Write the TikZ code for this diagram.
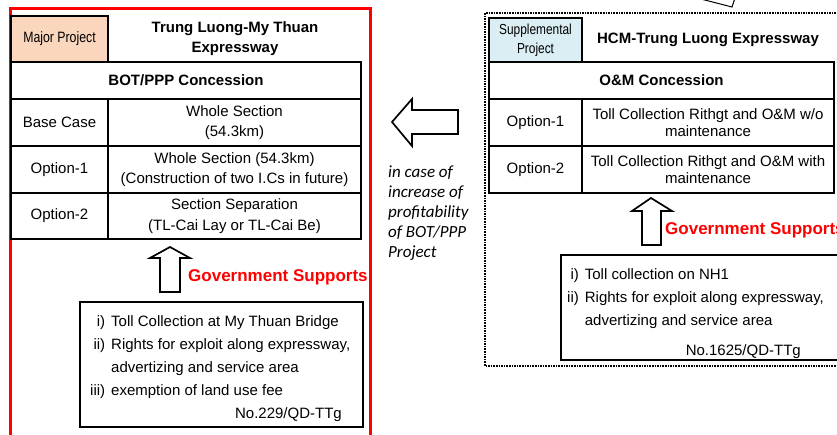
\documentclass[tikz,border=0pt]{standalone}
\usepackage{fontspec}
\setmainfont{Liberation Sans}
\newfontfamily\narrowfont[FakeStretch=0.82]{Liberation Sans}
\newfontfamily\notefont{Carlito}
\usetikzlibrary{positioning}
\definecolor{peach}{RGB}{250,214,188}
\definecolor{paleblue}{RGB}{218,238,243}

\begin{document}
\begin{tikzpicture}[x=1pt,y=-1pt,
    cell/.style={draw, line width=1.7pt, anchor=north west, inner sep=0pt, outer sep=0pt, align=center, font=\fontsize{15}{20.5}\selectfont},
    tightcell/.style={cell, font=\fontsize{15}{16.5}\selectfont},
    tagcell/.style={cell, font=\narrowfont\fontsize{15}{19}\selectfont},
    headtext/.style={align=center, inner sep=0pt, font=\bfseries\fontsize{15}{20}\selectfont},
    supports/.style={text=red, anchor=base west, inner sep=0pt, font=\bfseries\fontsize{17}{20}\selectfont},
    blockarrow/.style={draw, line width=1.7pt, fill=white, line join=miter},
    listbox/.style={draw, line width=1.7pt, anchor=north west, outer sep=0pt},
    listtext/.style={anchor=base west, inner sep=0pt, font=\fontsize{15}{23}\selectfont},
  ]
        \useasboundingbox (0,0) rectangle (837,434);
        \clip (0,0) rectangle (837,434);

        % Frames
        \draw[red, line width=3pt] (10,8) rectangle (370,450);
        \draw[line width=2.6pt, dash pattern=on 1.6pt off 1pt] (485,13) rectangle (860,366);
        \draw[line width=1pt] (697,-2) -- (732,7) -- (735,-2);

        % Major project table
        \node[tagcell, fill=peach, minimum width=97pt, minimum height=46pt] (majL) at (11,16) {Major Project};
        \node[headtext] (titleL) at (235,39) {Trung Luong-My Thuan\\Expressway};
        \node[cell, minimum width=350pt, minimum height=37pt, font=\bfseries\fontsize{15}{20}\selectfont] (botL) at (majL.south west) {BOT/PPP Concession};
        \node[cell, minimum width=97pt, minimum height=47pt] (baseL) at (botL.south west) {Base Case};
        \node[cell, minimum width=253pt, minimum height=47pt] (baseLtxt) at (baseL.north east) {Whole Section\\(54.3km)};
        \node[cell, minimum width=97pt, minimum height=47pt] (optaL) at (baseL.south west) {Option-1};
        \node[cell, minimum width=253pt, minimum height=47pt] (optaLtxt) at (optaL.north east) {Whole Section (54.3km)\\(Construction of two I.Cs in future)};
        \node[cell, minimum width=97pt, minimum height=46pt] (optbL) at (optaL.south west) {Option-2};
        \node[cell, minimum width=253pt, minimum height=46pt] (optbLtxt) at (optbL.north east) {Section Separation\\(TL-Cai Lay or TL-Cai Be)};

        % Supplemental project table
        \node[tagcell, fill=paleblue, minimum width=93pt, minimum height=44pt, font=\narrowfont\fontsize{14.5}{19}\selectfont] (supR) at (489,18) {Supplemental\\Project};
        \node[headtext] (titleR) at (708,40) {HCM-Trung Luong Expressway};
        \node[cell, minimum width=345pt, minimum height=37pt, font=\bfseries\fontsize{15}{20}\selectfont] (omR) at (supR.south west) {O\&M Concession};
        \node[cell, minimum width=93pt, minimum height=47pt] (optaR) at (omR.south west) {Option-1};
        \node[tightcell, minimum width=252pt, minimum height=47pt] (optaRtxt) at (optaR.north east) {Toll Collection Rithgt and O\&M w/o\\maintenance};
        \node[cell, minimum width=93pt, minimum height=47pt] (optbR) at (optaR.south west) {Option-2};
        \node[tightcell, minimum width=252pt, minimum height=47pt] (optbRtxt) at (optbR.north east) {Toll Collection Rithgt and O\&M with\\maintenance};

        % Block arrows
        \draw[blockarrow] (392,122) -- (412,99) -- (412,110) -- (458,110) -- (458,134) -- (412,134) -- (412,146) -- cycle;
        \draw[blockarrow] (170,247) -- (190,258) -- (180,258) -- (180,292) -- (160,292) -- (160,258) -- (150,258) -- cycle;
        \draw[blockarrow] (651,198) -- (672,211) -- (661,211) -- (661,245) -- (642,245) -- (642,211) -- (632,211) -- cycle;

        % Note
        \node[anchor=base west, inner sep=0pt, font=\notefont\itshape\fontsize{17}{20}\selectfont] (note) at (388,177)
            {\begin{tabular}[t]{@{}l@{}}in case of\\increase of\\profitability\\of BOT/PPP\\Project\end{tabular}};

        % Government supports
        \node[supports] (govL) at (188,281) {Government Supports};
        \node[supports] (govR) at (665,234) {Government Supports};

        \node[listbox, minimum width=283pt, minimum height=125pt] (listL) at (80,302) {};
        \node[listtext] (itemsL) at (90,326)
            {\begin{tabular}[t]{@{}r@{\hspace{6pt}}l@{}}i) & Toll Collection at My Thuan Bridge\\ii) & Rights for exploit along expressway,\\ & advertizing and service area\\iii) & exemption of land use fee\end{tabular}};
        \node[listtext, anchor=base east] (decL) at (342,418) {No.229/QD-TTg};

        \node[listbox, minimum width=290pt, minimum height=105pt] (listR) at (561,255) {};
        \node[listtext] (itemsR) at (567,279)
            {\begin{tabular}[t]{@{}r@{\hspace{6pt}}l@{}}i) & Toll collection on NH1\\ii) & Rights for exploit along expressway,\\ & advertizing and service area\end{tabular}};
        \node[listtext, anchor=base east] (decR) at (801,355) {No.1625/QD-TTg};
    \end{tikzpicture}
\end{document}
